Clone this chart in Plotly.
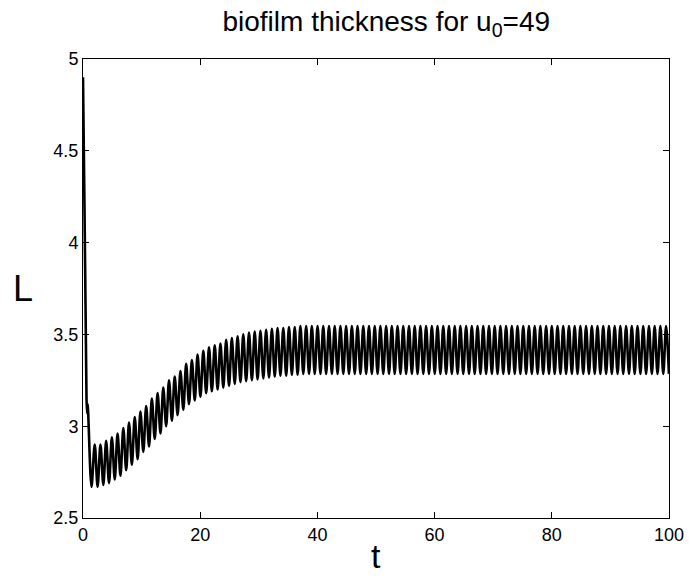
import plotly.graph_objects as go

# Initial transient (t, L)
t_start = [0.0, 0.25, 0.5, 0.6, 0.7, 0.8, 0.9, 1.45]
L_start = [4.90, 4.20, 3.45, 3.15, 3.07, 3.12, 3.06, 2.67]

# Peak times and values of the oscillation
peak_t = [2.00, 2.98, 3.95, 4.93, 5.90, 6.88, 7.85, 8.83, 9.80, 10.78,
          11.75, 12.73, 13.70, 14.68, 15.65, 16.63, 17.60, 18.58, 19.55, 20.53,
          21.50, 22.48, 23.45, 24.43, 25.40, 26.38, 27.35, 28.33, 29.30, 30.28,
          31.25, 32.23, 33.20, 34.18, 35.15, 36.13, 37.10, 38.08, 39.05, 40.03,
          41.00, 41.98, 42.95, 43.93, 44.90, 45.88, 46.85, 47.83, 48.80, 49.78,
          50.75, 51.73, 52.70, 53.68, 54.65, 55.63, 56.60, 57.58, 58.55, 59.53,
          60.50, 61.48, 62.45, 63.43, 64.40, 65.38, 66.35, 67.33, 68.30, 69.28,
          70.25, 71.23, 72.20, 73.18, 74.15, 75.13, 76.10, 77.08, 78.05, 79.03,
          80.00, 80.98, 81.95, 82.93, 83.90, 84.88, 85.85, 86.83, 87.80, 88.78,
          89.75, 90.73, 91.70, 92.68, 93.65, 94.63, 95.60, 96.58, 97.55, 98.53,
          99.50]
peak_L = [2.90, 2.90, 2.92, 2.94, 2.96, 2.99, 3.02, 3.05, 3.08, 3.11,
          3.15, 3.18, 3.21, 3.25, 3.27, 3.30, 3.34, 3.36, 3.39, 3.41,
          3.43, 3.44, 3.45, 3.47, 3.48, 3.49, 3.50, 3.51, 3.515, 3.52,
          3.525, 3.53, 3.535, 3.535, 3.54, 3.54, 3.545, 3.545, 3.545, 3.545,
          3.545, 3.545, 3.545, 3.545, 3.545, 3.545, 3.545, 3.545, 3.545, 3.545,
          3.545, 3.545, 3.545, 3.545, 3.545, 3.545, 3.545, 3.545, 3.545, 3.545,
          3.545, 3.545, 3.545, 3.545, 3.545, 3.545, 3.545, 3.545, 3.545, 3.545,
          3.545, 3.545, 3.545, 3.545, 3.545, 3.545, 3.545, 3.545, 3.545, 3.545,
          3.545, 3.545, 3.545, 3.545, 3.545, 3.545, 3.545, 3.545, 3.545, 3.545,
          3.545, 3.545, 3.545, 3.545, 3.545, 3.545, 3.545, 3.545, 3.545, 3.545,
          3.545]

# Trough times and values of the oscillation
trough_t = [2.49, 3.47, 4.44, 5.42, 6.39, 7.37, 8.34, 9.32, 10.29, 11.27,
            12.24, 13.22, 14.19, 15.17, 16.14, 17.12, 18.09, 19.07, 20.04, 21.02,
            21.99, 22.97, 23.94, 24.92, 25.89, 26.87, 27.84, 28.82, 29.79, 30.77,
            31.74, 32.72, 33.69, 34.67, 35.64, 36.62, 37.59, 38.57, 39.54, 40.52,
            41.49, 42.47, 43.44, 44.42, 45.39, 46.37, 47.34, 48.32, 49.29, 50.27,
            51.24, 52.22, 53.19, 54.17, 55.14, 56.12, 57.09, 58.07, 59.04, 60.02,
            60.99, 61.97, 62.94, 63.92, 64.89, 65.87, 66.84, 67.82, 68.79, 69.77,
            70.74, 71.72, 72.69, 73.67, 74.64, 75.62, 76.59, 77.57, 78.54, 79.52,
            80.49, 81.47, 82.44, 83.42, 84.39, 85.37, 86.34, 87.32, 88.29, 89.27,
            90.24, 91.22, 92.19, 93.17, 94.14, 95.12, 96.09, 97.07, 98.04, 99.02,
            99.99]
trough_L = [2.67, 2.68, 2.69, 2.71, 2.73, 2.76, 2.79, 2.82, 2.86, 2.89,
            2.93, 2.96, 3.00, 3.03, 3.06, 3.09, 3.12, 3.14, 3.16, 3.18,
            3.19, 3.20, 3.21, 3.22, 3.23, 3.24, 3.245, 3.25, 3.255, 3.26,
            3.265, 3.27, 3.275, 3.275, 3.28, 3.28, 3.285, 3.285, 3.285, 3.285,
            3.285, 3.285, 3.285, 3.285, 3.285, 3.285, 3.285, 3.285, 3.285, 3.285,
            3.285, 3.285, 3.285, 3.285, 3.285, 3.285, 3.285, 3.285, 3.285, 3.285,
            3.285, 3.285, 3.285, 3.285, 3.285, 3.285, 3.285, 3.285, 3.285, 3.285,
            3.285, 3.285, 3.285, 3.285, 3.285, 3.285, 3.285, 3.285, 3.285, 3.285,
            3.285, 3.285, 3.285, 3.285, 3.285, 3.285, 3.285, 3.285, 3.285, 3.285,
            3.285, 3.285, 3.285, 3.285, 3.285, 3.285, 3.285, 3.285, 3.285, 3.285,
            3.285]

x_ticks = [0, 20, 40, 60, 80, 100]
y_ticks = [2.5, 3, 3.5, 4, 4.5, 5]
y_tick_text = ["2.5", "3", "3.5", "4", "4.5", "5"]

# Merge the extrema in time order
osc = sorted(list(zip(peak_t, peak_L)) + list(zip(trough_t, trough_L)))
t_all = t_start + [p[0] for p in osc]
L_all = L_start + [p[1] for p in osc]

FONT = "Liberation Sans, Arial, Helvetica, sans-serif"

fig = go.Figure()
fig.add_trace(go.Scatter(
    x=t_all, y=L_all, mode="lines",
    line=dict(color="black", width=2.6, shape="spline", smoothing=0.9),
    hoverinfo="skip", showlegend=False,
))

axis_common = dict(
    showline=True, linecolor="black", linewidth=1, mirror="ticks",
    ticks="inside", ticklen=6, tickcolor="black", tickwidth=1,
    showgrid=False, zeroline=False,
    tickfont=dict(family=FONT, size=18, color="black"),
)

fig.update_xaxes(range=[0, 100], tickvals=x_ticks,
                 ticktext=[str(v) for v in x_ticks], **axis_common)
fig.update_yaxes(range=[2.5, 5], tickvals=y_ticks, ticktext=y_tick_text,
                 **axis_common)

fig.update_layout(
    width=696, height=578,
    margin=dict(l=83, r=17, t=59, b=60),
    paper_bgcolor="white", plot_bgcolor="white",
    title=dict(text="biofilm thickness for u<sub>0</sub>=49",
               x=0.555, xanchor="center", y=0.963, yanchor="middle",
               font=dict(family=FONT, size=28, color="black")),
    showlegend=False,
    annotations=[
        dict(text="t", xref="paper", yref="paper", x=0.5, y=-0.083,
             xanchor="center", yanchor="middle", showarrow=False,
             font=dict(family=FONT, size=34, color="black")),
        dict(text="L", xref="paper", yref="paper", x=-0.103, y=0.5,
             xanchor="center", yanchor="middle", showarrow=False,
             font=dict(family=FONT, size=36, color="black")),
    ],
)

fig.write_html("out.html")
